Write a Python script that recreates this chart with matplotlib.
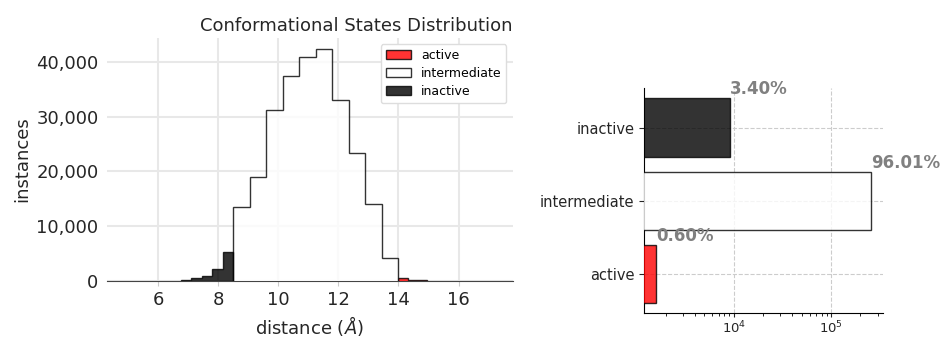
import numpy as np
import matplotlib
matplotlib.use('Agg')
import matplotlib.pyplot as plt
from matplotlib.ticker import FuncFormatter

# Histogram of the distance per conformational state (bin edges in Angstrom)
inactive_edges = [6.75, 7.10, 7.45, 7.80, 8.15, 8.50]
inactive_counts = [230, 470, 970, 2200, 5299]

intermediate_edges = [8.50, 9.05, 9.60, 10.15, 10.70, 11.25, 11.80, 12.35, 12.90, 13.45, 14.00]
intermediate_counts = [13450, 19050, 31230, 37420, 40960, 42292, 33120, 23380, 14060, 4260]

active_edges = [14.00, 14.32, 14.64, 14.96]
active_counts = [600, 140, 120]

# Total number of frames per state
states = ['active', 'intermediate', 'inactive']
state_counts = [1609, 259222, 9169]
state_colors = ['red', 'white', 'black']

fig = plt.figure(figsize=(9.46, 3.38), dpi=100)

# --- histogram panel ---
ax1 = fig.add_axes([0.113, 0.169, 0.429, 0.719])
hist_data = [
    ('active', active_edges, active_counts, 'red'),
    ('intermediate', intermediate_edges, intermediate_counts, 'white'),
    ('inactive', inactive_edges, inactive_counts, 'black'),
]
for name, edges, counts, color in hist_data:
    ax1.stairs(counts, edges, fill=True, facecolor=color, edgecolor='black',
               linewidth=1, alpha=0.8, label=name, zorder=3)

ax1.set_xlim(4.3, 17.8)
ax1.set_ylim(0, 44400)
ax1.set_xticks([6, 8, 10, 12, 14, 16])
ax1.set_yticks([0, 10000, 20000, 30000, 40000])
ax1.yaxis.set_major_formatter(FuncFormatter(lambda v, p: f'{v:,.0f}'))
ax1.grid(True, color='#e8e8e8', linewidth=1.5, zorder=0)
ax1.set_axisbelow(True)
for side in ['top', 'right', 'left']:
    ax1.spines[side].set_visible(False)
ax1.spines['bottom'].set_color('#444444')
ax1.tick_params(axis='y', length=0, labelsize=13, colors='#262626', pad=6)
ax1.tick_params(axis='x', length=3.5, color='#cccccc', labelsize=13, colors='#262626')
ax1.set_xlabel(r'distance ($\AA$)', fontsize=13, color='#262626')
ax1.set_ylabel('instances', fontsize=13, color='#262626')
ax1.set_title('Conformational States Distribution', loc='right', fontsize=13,
              color='#262626', pad=5)
ax1.legend(loc='upper right', fontsize=9, framealpha=1, edgecolor='#dddddd',
           handlelength=2.0, borderpad=0.4, labelspacing=0.4)

# --- state totals panel ---
ax2 = fig.add_axes([0.681, 0.073, 0.252, 0.666])
ypos = np.arange(len(states))
ax2.barh(ypos, state_counts, height=0.8, color=state_colors, edgecolor='black',
         linewidth=1, alpha=0.8, zorder=3)
ax2.set_xscale('log')
ax2.set_xlim(1208, 337500)
ax2.set_ylim(-0.54, 2.54)
ax2.set_yticks(ypos)
ax2.set_yticklabels(states)
ax2.tick_params(axis='y', labelsize=10.5, colors='#262626')
ax2.tick_params(axis='x', which='major', length=3, pad=1.5, labelsize=9.5, colors='#262626')
ax2.tick_params(axis='x', which='minor', length=2)
ax2.grid(True, which='major', linestyle='--', color='#cccccc', linewidth=0.8)
ax2.set_axisbelow(True)
for side in ['top', 'right']:
    ax2.spines[side].set_visible(False)

total = sum(state_counts)
for i, n in enumerate(state_counts):
    ax2.text(n, i + 0.4, f'{100 * n / total:.2f}%', ha='left', va='bottom',
             fontsize=12, fontweight='bold', color='gray')

fig.savefig('out.png', dpi=100)
